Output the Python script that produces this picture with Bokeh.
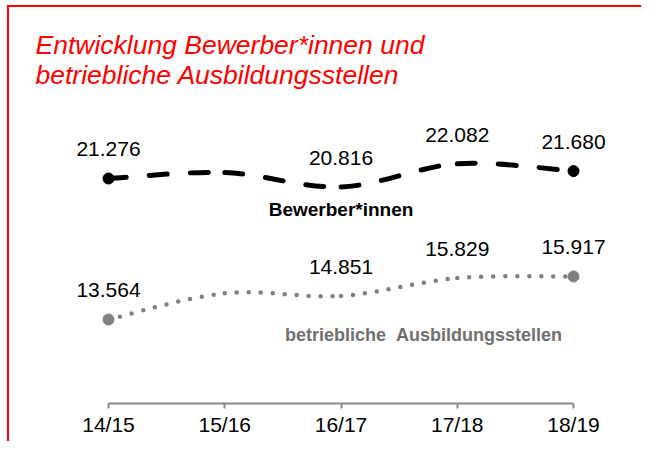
from bokeh.plotting import figure
from bokeh.models import FixedTicker, Label, Range1d
from bokeh.core.properties import value
from bokeh.embed import file_html
from bokeh.resources import INLINE

# ---- data ----
years = ["14/15", "15/16", "16/17", "17/18", "18/19"]
bewerber = [21276, 21600, 20816, 22082, 21680]
stellen = [13564, 15000, 14851, 15829, 15917]
labelled = [0, 2, 3, 4]  # indices that carry a value label

xs = list(range(len(years)))

FONT = "Liberation Sans"


def fmt(v):
    return f"{v:,}".replace(",", ".")


def bezier_segments(x, y):
    n = len(x)
    out = dict(x0=[], y0=[], x1=[], y1=[], cx0=[], cy0=[], cx1=[], cy1=[])
    for i in range(n - 1):
        pm = max(i - 1, 0)
        pp = min(i + 2, n - 1)
        out["x0"].append(x[i]); out["y0"].append(y[i])
        out["x1"].append(x[i + 1]); out["y1"].append(y[i + 1])
        out["cx0"].append(x[i] + (x[i + 1] - x[pm]) / 6)
        out["cy0"].append(y[i] + (y[i + 1] - y[pm]) / 6)
        out["cx1"].append(x[i + 1] - (x[pp] - x[i]) / 6)
        out["cy1"].append(y[i + 1] - (y[pp] - y[i]) / 6)
    return out


p = figure(width=634, height=436, output_backend="svg", toolbar_location=None,
           x_range=Range1d(-0.6796, 4.602), y_range=Range1d(8969, 25433),
           min_border_left=20, min_border_right=0, min_border_top=95,
           min_border_bottom=40)
p.styles = {"border-left": "2px solid #ff0000", "border-top": "2px solid #ff0000",
            "margin-left": "7px", "margin-top": "5px"}
p.outline_line_color = None
p.xgrid.visible = False
p.ygrid.visible = False
p.yaxis.visible = False

# title
p.title.text = "Entwicklung Bewerber*innen und\nbetriebliche Ausbildungsstellen"
p.title.text_font = FONT
p.title.text_font_style = "italic"
p.title.text_font_size = "26.5px"
p.title.text_color = "#ff0000"
p.title.align = "left"
p.title.offset = 6
p.title.standoff = 26

# x axis
ax = p.xaxis[0]
ax.ticker = FixedTicker(ticks=xs)
ax.major_label_overrides = {i: years[i] for i in xs}
ax.bounds = (xs[0], xs[-1])
ax.axis_line_color = "#898989"
ax.axis_line_width = 2
ax.major_tick_line_color = "#898989"
ax.major_tick_line_width = 2
ax.major_tick_in = 0
ax.major_tick_out = 5
ax.minor_tick_line_color = None
ax.major_label_text_font = FONT
ax.major_label_text_font_style = "normal"
ax.major_label_text_font_size = "21px"
ax.major_label_text_color = "#000000"
ax.major_label_standoff = 4

# Bewerber line (black dashed, smoothed)
b = bezier_segments(xs, bewerber)
p.bezier(x0=b["x0"], y0=b["y0"], x1=b["x1"], y1=b["y1"], cx0=b["cx0"], cy0=b["cy0"],
         cx1=b["cx1"], cy1=b["cy1"], line_color="#000000", line_width=5,
         line_dash="18 23", line_cap="round")
p.scatter(x=[xs[0], xs[-1]], y=[bewerber[0], bewerber[-1]], size=11,
          fill_color="#000000", line_color="#000000")

# Stellen line (gray dotted, smoothed)
s = bezier_segments(xs, stellen)
p.bezier(x0=s["x0"], y0=s["y0"], x1=s["x1"], y1=s["y1"], cx0=s["cx0"], cy0=s["cy0"],
         cx1=s["cx1"], cy1=s["cy1"], line_color="#808080", line_width=4.5,
         line_dash="0 12", line_cap="round")
p.scatter(x=[xs[0], xs[-1]], y=[stellen[0], stellen[-1]], size=11,
          fill_color="#808080", line_color="#808080")

# value labels
for series in (bewerber, stellen):
    p.text(x=[xs[i] for i in labelled], y=[series[i] for i in labelled],
           text=[fmt(series[i]) for i in labelled], y_offset=-29,
           text_align="center", text_baseline="middle",
           text_font=value(FONT), text_font_size="21px", text_color="#000000")

# series names
p.add_layout(Label(x=2, y=19580, text="Bewerber*innen", text_align="center",
                   text_baseline="middle", text_font=FONT, text_font_style="bold",
                   text_font_size="19px", text_color="#000000"))
p.add_layout(Label(x=2.71, y=12689, text="betriebliche\u00a0\u00a0Ausbildungsstellen",
                   text_align="center", text_baseline="middle", text_font=FONT,
                   text_font_style="bold", text_font_size="18px",
                   text_color="#707070"))

open("out.html", "w").write(file_html(p, INLINE))
